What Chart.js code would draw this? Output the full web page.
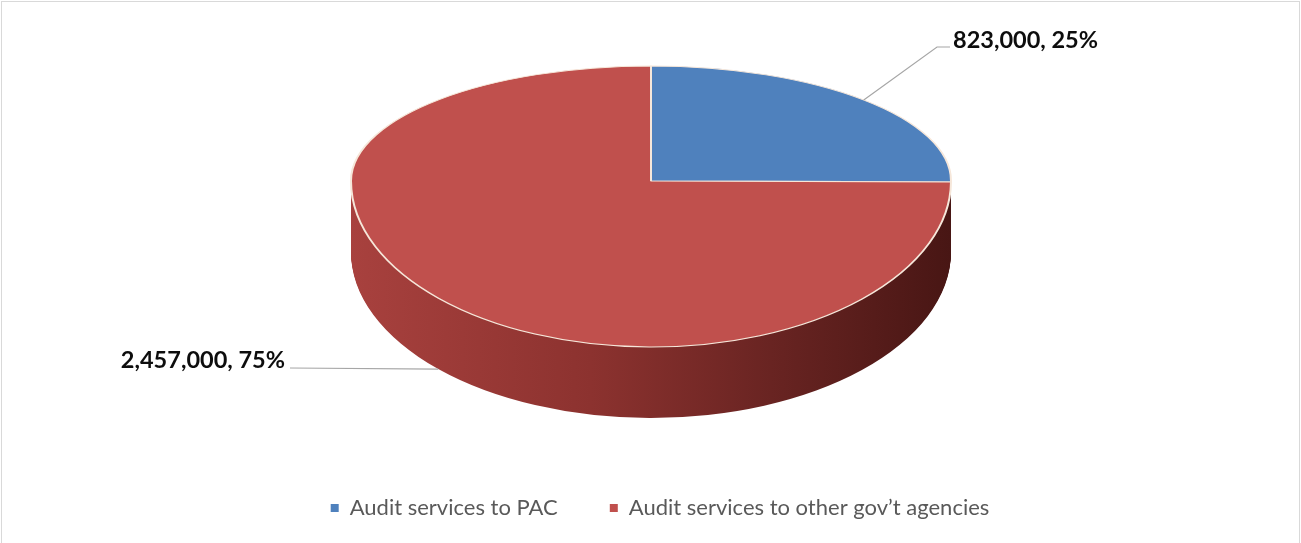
<!DOCTYPE html>
<html lang="en">
<head>
<meta charset="UTF-8" />
<title>Audit services</title>
<script src="https://cdn.jsdelivr.net/npm/chart.js@4.4.0/dist/chart.umd.min.js"></script>
<style>
  html, body { margin: 0; padding: 0; background: #fff; }
  canvas { display: block; }
</style>
</head>
<body>
<canvas id="pie" width="1301" height="543"></canvas>
<script>
const categories = ["Audit services to PAC", "Audit services to other gov’t agencies"];
const amounts = [823000, 2457000];
const sliceColors = ["#4f81bd", "#c0504d"];

// where the tilted pie sits on the page (Excel-like 3D look)
const CX = 651, CY = 181, RX = 300, RY_UP = 115, RY_DOWN = 166, DEPTH = 71;
// label spots + leader elbows
const labelSpots = [
  { x: 953, y: 48, align: "left", elbow: [[937, 47], [950, 47]] },
  { x: 285, y: 368, align: "right", elbow: [[290, 368]] },
];

const total = amounts.reduce((s, v) => s + v, 0);
const fmt = (n) => n.toLocaleString("en-US");

// copy of an arc element with other fill, so the library draws the shape
const ghost = (arc, fill) => {
  const g = Object.create(arc);
  g.options = { ...arc.options, backgroundColor: fill, borderWidth: 0 };
  return g;
};

const tiltedPie = {
  id: "tiltedPie",
  beforeDatasetsDraw(chart) {
    const ctx = chart.ctx;
    const arcs = chart.getDatasetMeta(0).data;
    const { x, y, outerRadius: R } = arcs[0].getProps(["x", "y", "outerRadius"], true);
    const toEllipse = (ry) => {
      ctx.translate(CX, CY);
      ctx.scale(RX / R, ry / R);
      ctx.translate(-x, -y);
    };

    // side wall: sweep the front half downwards
    const side = ctx.createLinearGradient(x - R, 0, x + R, 0);
    side.addColorStop(0, "#a8413e");
    side.addColorStop(0.4, "#8c322f");
    side.addColorStop(0.7, "#692422");
    side.addColorStop(1, "#481614");
    for (let d = DEPTH; d >= 1; d--) {
      ctx.save();
      ctx.beginPath();
      ctx.rect(0, CY + d, chart.width, chart.height);
      ctx.clip();
      ctx.translate(0, d);
      toEllipse(RY_DOWN);
      arcs.forEach(a => ghost(a, side).draw(ctx));
      ctx.restore();
    }

    // top face, back half then front half
    ctx.save();
    ctx.beginPath();
    ctx.rect(0, 0, chart.width, CY + 0.5);
    ctx.clip();
    toEllipse(RY_UP);
    arcs.forEach(a => a.draw(ctx));
    ctx.restore();

    ctx.save();
    ctx.beginPath();
    ctx.rect(0, CY, chart.width, chart.height);
    ctx.clip();
    toEllipse(RY_DOWN);
    arcs.forEach(a => a.draw(ctx));
    ctx.restore();
    return false;
  },
  afterDraw(chart) {
    const ctx = chart.ctx;
    const arcs = chart.getDatasetMeta(0).data;
    ctx.save();
    arcs.forEach((a, i) => {
      const mid = (a.startAngle + a.endAngle) / 2;
      const s = Math.sin(mid);
      const ax = CX + RX * Math.cos(mid);
      const ay = s < 0 ? CY + RY_UP * s : CY + RY_DOWN * s + DEPTH;
      const spot = labelSpots[i];

      ctx.strokeStyle = "#a6a6a6";
      ctx.lineWidth = 1.2;
      ctx.beginPath();
      ctx.moveTo(ax, ay);
      spot.elbow.forEach(([ex, ey]) => ctx.lineTo(ex, ey));
      ctx.stroke();

      ctx.fillStyle = "#0d0d0d";
      ctx.font = "bold 23.5px Lato";
      ctx.textAlign = spot.align;
      ctx.textBaseline = "alphabetic";
      const pct = Math.round(amounts[i] / total * 100);
      ctx.fillText(`${fmt(amounts[i])}, ${pct}%`, spot.x, spot.y);
    });

    // thin chart frame
    ctx.strokeStyle = "#d9d9d9";
    ctx.lineWidth = 1;
    ctx.strokeRect(1.5, 1.5, chart.width - 3, chart.height + 10);
    ctx.restore();
  },
};

new Chart(document.getElementById("pie"), {
  type: "pie",
  data: {
    labels: categories,
    datasets: [{
      data: amounts,
      backgroundColor: sliceColors,
      borderColor: "#f6e7da",
      borderWidth: 1.5,
    }],
  },
  options: {
    responsive: false,
    devicePixelRatio: 1,
    animation: false,
    events: [],
    layout: { padding: { left: 19, bottom: 14 } },
    plugins: {
      tooltip: { enabled: false },
      legend: {
        position: "bottom",
        labels: {
          boxWidth: 8,
          boxHeight: 8,
          padding: 52,
          color: "#595959",
          font: { family: "Lato", size: 22 },
          generateLabels: (chart) =>
            Chart.overrides.pie.plugins.legend.labels.generateLabels(chart)
              .map(l => ({ ...l, lineWidth: 0, strokeStyle: l.fillStyle })),
        },
      },
    },
  },
  plugins: [tiltedPie],
});
</script>
</body>
</html>
